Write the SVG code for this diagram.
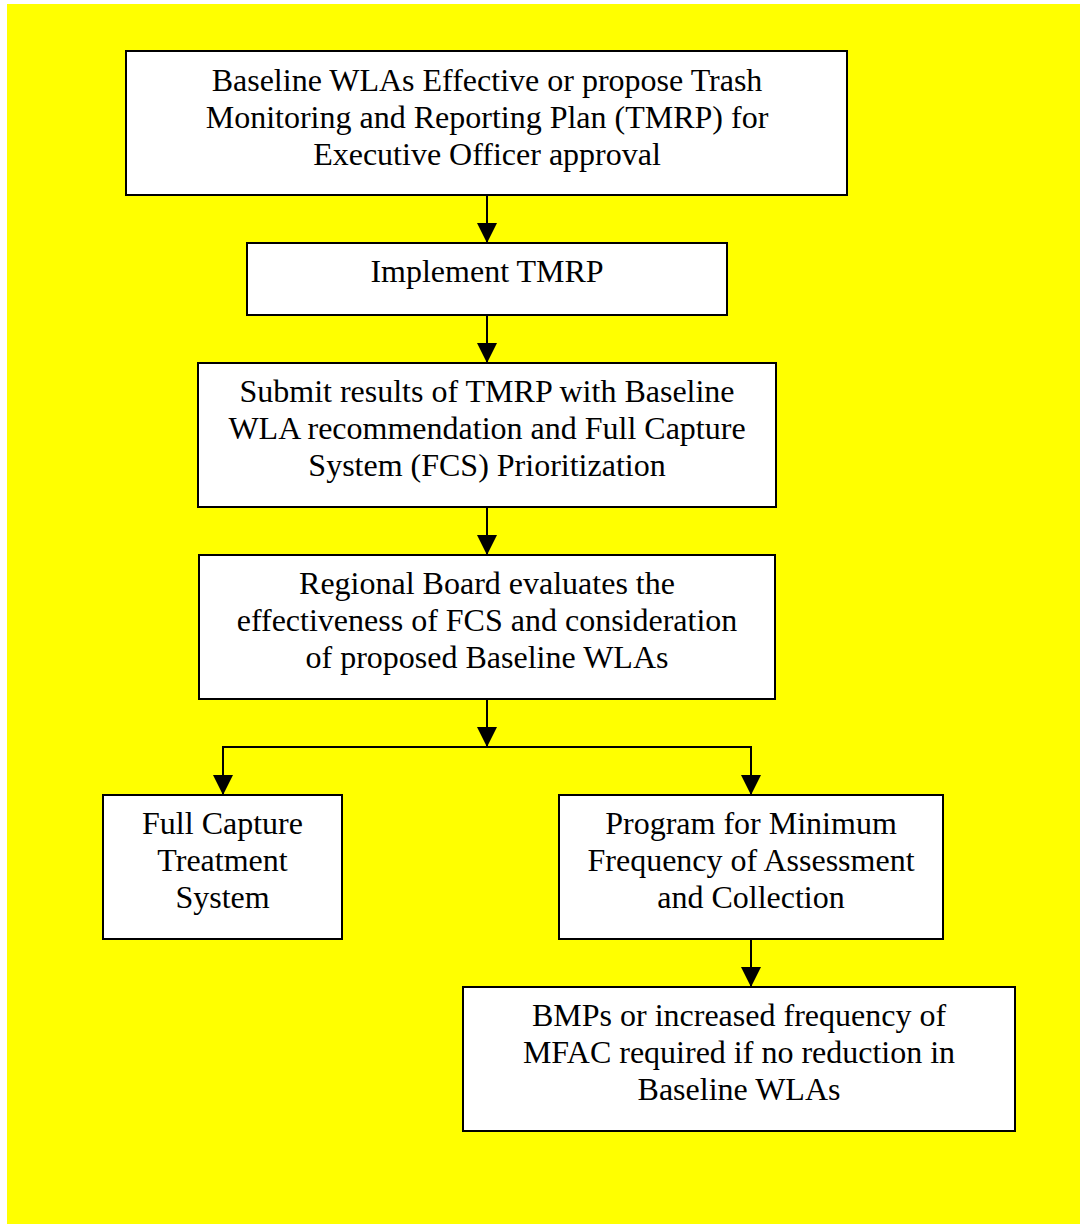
<svg xmlns="http://www.w3.org/2000/svg" width="1080" height="1224" viewBox="0 0 1080 1224">
<defs>
<style>
.box{fill:#fff;stroke:#000;stroke-width:2}
.t{font-family:"Liberation Serif","Times New Roman",serif;font-size:32px;fill:#000;text-anchor:middle}
.c{fill:none;stroke:#000;stroke-width:2}
</style>
<marker id="ah" viewBox="0 0 20 20" markerWidth="20" markerHeight="20" refX="20" refY="10" orient="auto" markerUnits="userSpaceOnUse">
<path d="M0,0 L20,10 L0,20 Z" fill="#000"/>
</marker>
</defs>
<rect x="7" y="4" width="1073" height="1220" fill="#ffff00"/>
<g id="connectors">
<line class="c" x1="487" y1="195" x2="487" y2="243" marker-end="url(#ah)"/>
<line class="c" x1="487" y1="315" x2="487" y2="363" marker-end="url(#ah)"/>
<line class="c" x1="487" y1="507" x2="487" y2="555" marker-end="url(#ah)"/>
<line class="c" x1="487" y1="699" x2="487" y2="747" marker-end="url(#ah)"/>
<polyline class="c" points="223,795 223,747 751,747 751,795"/>
<line class="c" x1="223" y1="760" x2="223" y2="795" marker-end="url(#ah)"/>
<line class="c" x1="751" y1="760" x2="751" y2="795" marker-end="url(#ah)"/>
<line class="c" x1="751" y1="939" x2="751" y2="987" marker-end="url(#ah)"/>
</g>
<g id="n1">
<rect class="box" x="126" y="51" width="721" height="144"/>
<text class="t" x="487" y="91">Baseline WLAs Effective or propose Trash</text>
<text class="t" x="487" y="128">Monitoring and Reporting Plan (TMRP) for</text>
<text class="t" x="487" y="165">Executive Officer approval</text>
</g>
<g id="n2">
<rect class="box" x="247" y="243" width="480" height="72"/>
<text class="t" x="487" y="282">Implement TMRP</text>
</g>
<g id="n3">
<rect class="box" x="198" y="363" width="578" height="144"/>
<text class="t" x="487" y="402">Submit results of TMRP with Baseline</text>
<text class="t" x="487" y="439">WLA recommendation and Full Capture</text>
<text class="t" x="487" y="476">System (FCS) Prioritization</text>
</g>
<g id="n4">
<rect class="box" x="199" y="555" width="576" height="144"/>
<text class="t" x="487" y="594">Regional Board evaluates the</text>
<text class="t" x="487" y="631">effectiveness of FCS and consideration</text>
<text class="t" x="487" y="668">of proposed Baseline WLAs</text>
</g>
<g id="n5">
<rect class="box" x="103" y="795" width="239" height="144"/>
<text class="t" x="222.5" y="834">Full Capture</text>
<text class="t" x="222.5" y="871">Treatment</text>
<text class="t" x="222.5" y="908">System</text>
</g>
<g id="n6">
<rect class="box" x="559" y="795" width="384" height="144"/>
<text class="t" x="751" y="834">Program for Minimum</text>
<text class="t" x="751" y="871">Frequency of Assessment</text>
<text class="t" x="751" y="908">and Collection</text>
</g>
<g id="n7">
<rect class="box" x="463" y="987" width="552" height="144"/>
<text class="t" x="739" y="1026">BMPs or increased frequency of</text>
<text class="t" x="739" y="1063">MFAC required if no reduction in</text>
<text class="t" x="739" y="1100">Baseline WLAs</text>
</g>
</svg>
